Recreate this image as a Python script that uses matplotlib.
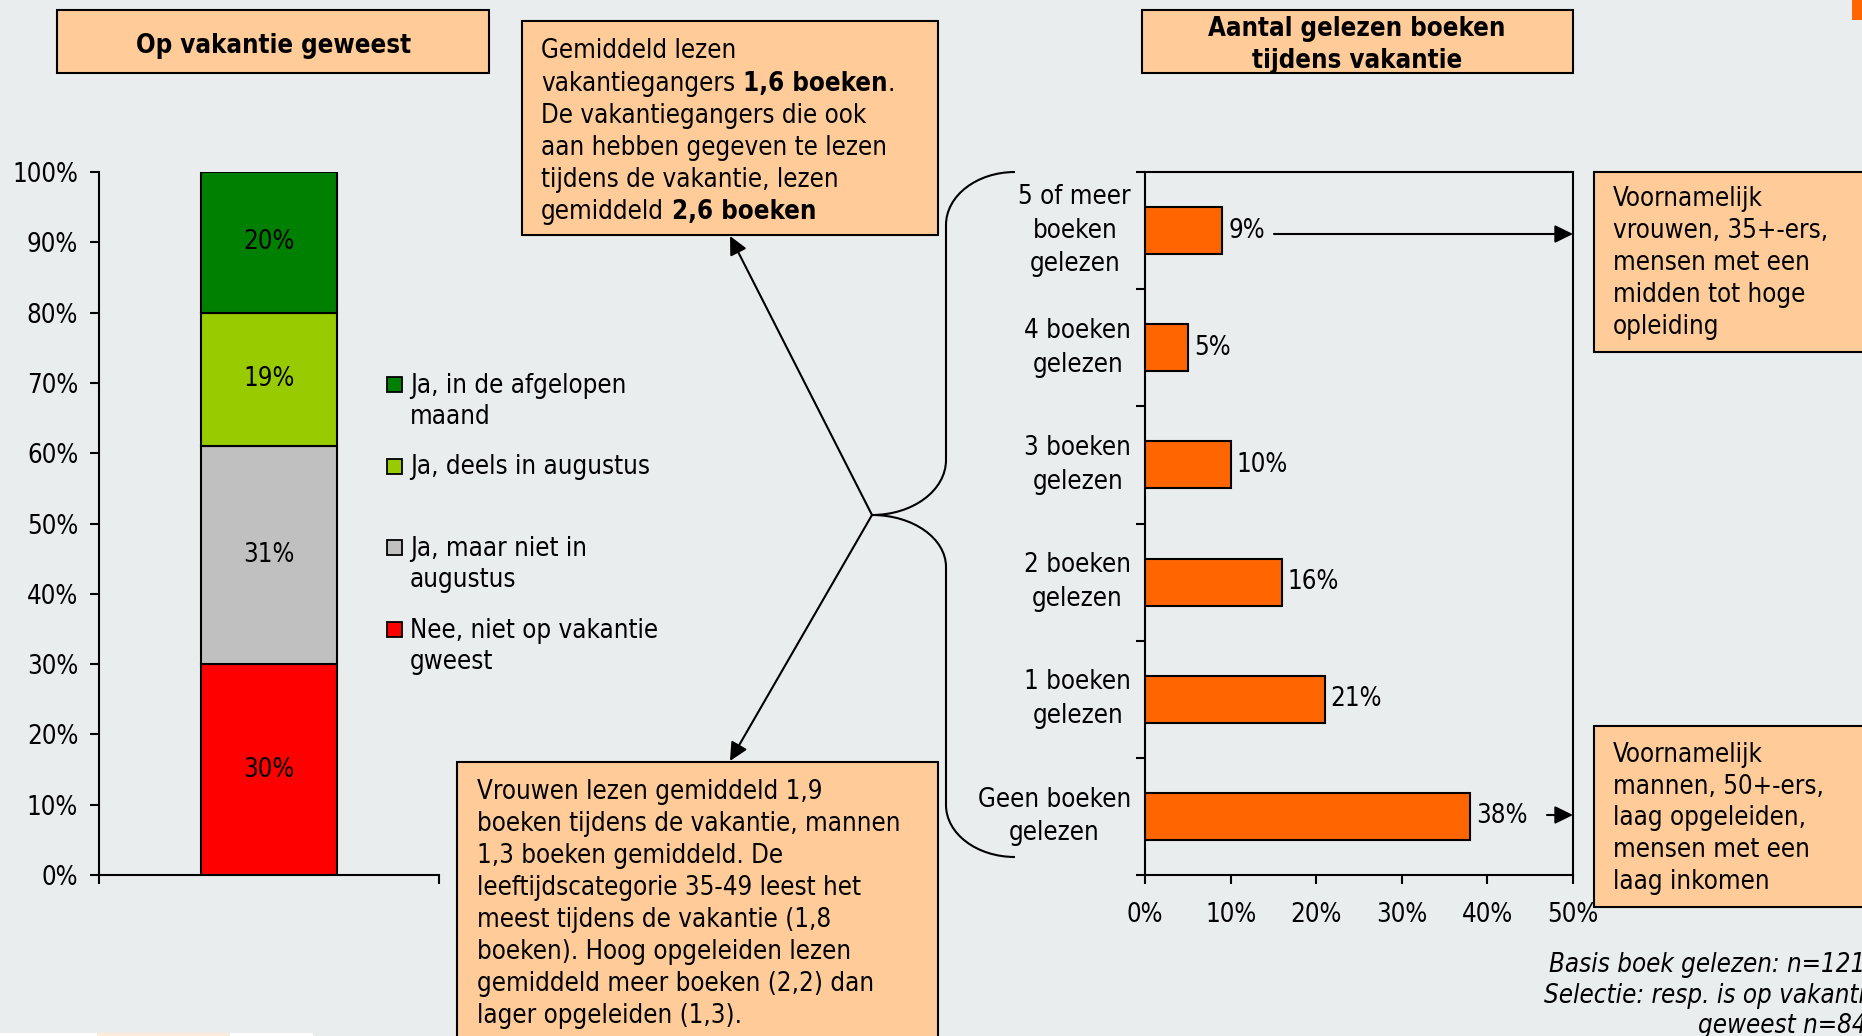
import matplotlib
matplotlib.use("Agg")
import matplotlib.pyplot as plt
from matplotlib import font_manager
from matplotlib.patches import Rectangle, FancyArrowPatch, PathPatch
from matplotlib.path import Path
from matplotlib.text import Annotation
import numpy as np

# ---------------- data ----------------
vak_labels = ["Nee, niet op vakantie\ngweest", "Ja, maar niet in\naugustus",
              "Ja, deels in augustus", "Ja, in de afgelopen\nmaand"]
vak_values = [30, 31, 19, 20]
vak_colors = ["#FF0000", "#C0C0C0", "#99CC00", "#008000"]
vak_yticks = [0, 10, 20, 30, 40, 50, 60, 70, 80, 90, 100]

boek_labels = ["5 of meer\nboeken\ngelezen", "4 boeken\ngelezen", "3 boeken\ngelezen",
               "2 boeken\ngelezen", "1 boeken\ngelezen", "Geen boeken\ngelezen"]
boek_values = [9, 5, 10, 16, 21, 38]
boek_xticks = [0, 10, 20, 30, 40, 50]

title_left = "Op vakantie geweest"
title_right = "Aantal gelezen boeken\ntijdens vakantie"

box1_lines = [
    [("Gemiddeld lezen", False)],
    [("vakantiegangers", False), (" 1,6 boeken", True), (".", False)],
    [("De vakantiegangers die ook", False)],
    [("aan hebben gegeven te lezen", False)],
    [("tijdens de vakantie, lezen", False)],
    [("gemiddeld", False), (" 2,6 boeken", True)],
]
box2_lines = ["Vrouwen lezen gemiddeld 1,9", "boeken tijdens de vakantie, mannen",
              "1,3 boeken gemiddeld. De", "leeftijdscategorie 35-49 leest het",
              "meest tijdens de vakantie (1,8", "boeken). Hoog opgeleiden lezen",
              "gemiddeld meer boeken (2,2) dan", "lager opgeleiden (1,3)."]
box3_lines = ["Voornamelijk", "vrouwen, 35+-ers,", "mensen met een", "midden tot hoge", "opleiding"]
box4_lines = ["Voornamelijk", "mannen, 50+-ers,", "laag opgeleiden,", "mensen met een", "laag inkomen"]
foot_lines = ["Basis boek gelezen: n=121", "Selectie: resp. is op vakantie", "geweest n=84"]

# ---------------- style ----------------
W, H, DPI = 1862, 1036, 100
BG = "#E9EDEE"
PEACH = "#FFCC99"
ORANGE = "#FF6600"

fp_c = font_manager.FontProperties(family="DejaVu Sans", stretch="condensed")
fpath = font_manager.findfont(fp_c)
COND = "ondensed" in fpath
plt.rcParams["font.family"] = "DejaVu Sans"
if COND:
    plt.rcParams["font.stretch"] = "condensed"
    FS = 18.5
else:
    FS = 16.6
plt.rcParams["font.size"] = FS
LS = 1.38


def fx(x):
    return x / W


def fy(y):
    return 1 - y / H


fig = plt.figure(figsize=(W / DPI, H / DPI), dpi=DPI, facecolor=BG)


def box(x0, y0, x1, y1, fc=PEACH, ec="black", lw=1.5):
    r = Rectangle((fx(x0), fy(y1)), (x1 - x0) / W, (y1 - y0) / H, transform=fig.transFigure,
                  facecolor=fc, edgecolor=ec, linewidth=lw, zorder=1)
    fig.add_artist(r)


def draw_lines(x, y0, dy, lines, ha="left", **kw):
    if isinstance(lines, str):
        lines = lines.split("\n")
    for i, segs in enumerate(lines):
        if isinstance(segs, str):
            segs = [(segs, False)]
        prev = None
        for txt, bold in segs:
            w = "bold" if bold else kw.get("fontweight", "normal")
            kk = {k: v for k, v in kw.items() if k != "fontweight"}
            if prev is None:
                prev = fig.text(fx(x), fy(y0 + i * dy), txt, ha=ha, va="baseline",
                                fontweight=w, zorder=3, **kk)
            else:
                a = Annotation(txt, xy=(1, 0), xycoords=prev, ha="left", va="bottom",
                               fontweight=w, zorder=3, **kk)
                fig.add_artist(a)
                prev = a


def arrow(p0, p1):
    a = FancyArrowPatch(posA=(fx(p0[0]), fy(p0[1])), posB=(fx(p1[0]), fy(p1[1])),
                        transform=fig.transFigure,
                        arrowstyle="-|>,head_length=0.55,head_width=0.27",
                        mutation_scale=20, shrinkA=0, shrinkB=0,
                        color="black", linewidth=1.5, zorder=4)
    fig.add_artist(a)


# ---------------- title boxes ----------------
box(57, 10, 489, 73)
draw_lines(274, 53, 32, [title_left], ha="center", fontweight="bold")
box(1142, 10, 1573, 73)
draw_lines(1357, 36, 32, title_right, ha="center", fontweight="bold")

# ---------------- left stacked bar ----------------
axL = fig.add_axes([fx(99), fy(875), 340 / W, (875 - 172) / H])
axL.set_facecolor("none")
bottom = 0
for lab, val, col in zip(vak_labels, vak_values, vak_colors):
    cont = axL.bar(0, val, width=0.4, bottom=bottom, color=col, edgecolor="black",
                   linewidth=1.5, label=lab)
    axL.bar_label(cont, labels=[f"{val}%"], label_type="center")
    bottom += val
axL.set_xlim(-0.5, 0.5)
axL.set_ylim(0, 100)
axL.set_yticks(vak_yticks, [f"{t}%" for t in vak_yticks])
axL.set_xticks([-0.5, 0.5], ["", ""])
for s in ["top", "right"]:
    axL.spines[s].set_visible(False)
for s in ["left", "bottom"]:
    axL.spines[s].set_linewidth(1.5)
axL.tick_params(axis="both", direction="out", length=6.5, width=1.5, color="black")
axL.tick_params(axis="y", pad=8.5)

# legend (manual, Excel-like equal spacing)
leg_y0 = 393
leg_dy = 81.5
for i, (lab, col) in enumerate(zip(vak_labels[::-1], vak_colors[::-1])):
    yb = leg_y0 + i * leg_dy
    box(387, yb - 16, 402, yb - 1, fc=col, ec="black", lw=1.3)
    draw_lines(410, yb, 31.3, lab)

# ---------------- right horizontal bars ----------------
axR = fig.add_axes([fx(1145), fy(875), 428 / W, (875 - 172) / H])
axR.set_facecolor("none")
yy = np.arange(len(boek_labels))
cont = axR.barh(yy, boek_values, height=0.4, color=ORANGE, edgecolor="black", linewidth=1.5)
axR.bar_label(cont, labels=[f"{v}%" for v in boek_values], padding=4.3)
axR.set_ylim(len(boek_labels) - 0.5, -0.5)
axR.set_xlim(0, 50)
axR.set_yticks(yy, boek_labels, multialignment="center", linespacing=LS,
               verticalalignment="center")
axR.set_yticks(np.arange(len(boek_labels) + 1) - 0.5, minor=True)
axR.set_xticks(boek_xticks, [f"{v}%" for v in boek_xticks])
for s in axR.spines.values():
    s.set_linewidth(1.5)
axR.tick_params(axis="y", which="major", length=0, pad=10)
axR.tick_params(axis="y", which="minor", direction="out", length=6.5, width=1.5)
axR.tick_params(axis="x", direction="out", length=6.5, width=1.5, pad=13)

# ---------------- text boxes ----------------
box(522, 21, 938, 235)
draw_lines(541, 58.5, 32.1, box1_lines)
box(457, 762, 938, 1050)
draw_lines(477, 799, 32, box2_lines)
box(1594, 172, 1880, 352)
draw_lines(1613, 206, 32, box3_lines)
box(1594, 726, 1880, 907)
draw_lines(1613, 762, 31.7, box4_lines)

# footnote
fig.text(fx(1549), fy(972), foot_lines[0], ha="left", va="baseline", style="italic")
fig.text(fx(1544), fy(1003), foot_lines[1], ha="left", va="baseline", style="italic")
fig.text(fx(1698), fy(1033), foot_lines[2], ha="left", va="baseline", style="italic")

# ---------------- brace & arrows ----------------
k = 0.5523
verts = [(1015, 172), (1015 - 69 * k, 172), (946, 225 - 53 * k), (946, 225),
         (946, 460),
         (946, 460 + 55 * k), (872 + 74 * k, 515), (872, 515),
         (872 + 74 * k, 515), (946, 567 - 52 * k), (946, 567),
         (946, 805),
         (946, 805 + 52 * k), (1015 - 69 * k, 857), (1015, 857)]
codes = [Path.MOVETO, Path.CURVE4, Path.CURVE4, Path.CURVE4, Path.LINETO,
         Path.CURVE4, Path.CURVE4, Path.CURVE4,
         Path.CURVE4, Path.CURVE4, Path.CURVE4, Path.LINETO,
         Path.CURVE4, Path.CURVE4, Path.CURVE4]
brace = PathPatch(Path([(fx(x), fy(y)) for x, y in verts], codes), transform=fig.transFigure,
                  facecolor="none", edgecolor="black", linewidth=1.5, zorder=4)
fig.add_artist(brace)

arrow((872, 515), (730, 236))
arrow((872, 515), (730, 761))
arrow((1274, 234), (1573, 234))
arrow((1547, 815), (1573, 815))

# decorations at the edges
box(1852, -5, 1870, 20, fc=ORANGE, ec="none", lw=0)
box(0, 1033, 313, 1040, fc="white", ec="none", lw=0)
box(97, 1033, 230, 1040, fc="#FBEBD8", ec="none", lw=0)

fig.savefig("out.png", dpi=DPI, facecolor=BG)
